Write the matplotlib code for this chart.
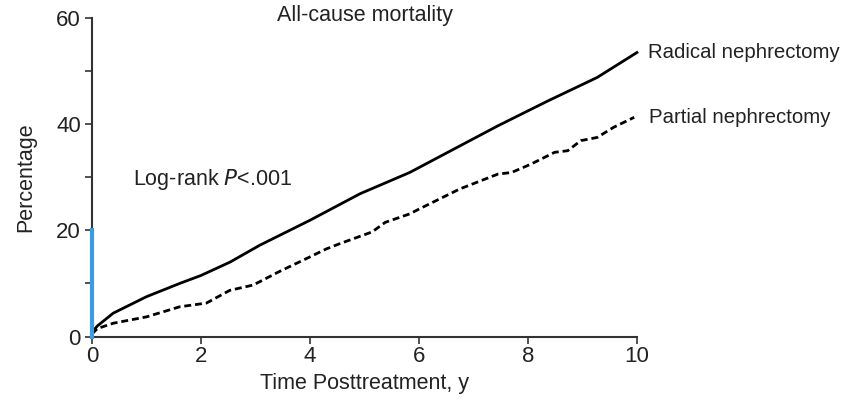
import matplotlib
matplotlib.use("Agg")
import matplotlib.pyplot as plt

plt.rcParams['font.family'] = ['Liberation Sans', 'DejaVu Sans']

# cumulative all-cause mortality (%), read at selected follow-up years
radical_t = [0, 0.1, 0.39, 1.0, 1.61, 2.0, 2.53, 3.08, 4.0, 4.92, 5.83, 6.75, 7.45,
             8.37, 9.27, 10.0]
radical_pct = [0.8, 2.0, 4.4, 7.5, 10.0, 11.5, 14.0, 17.2, 21.9, 26.9, 30.9, 35.9, 39.7,
               44.4, 48.8, 53.5]

partial_t = [0, 0.1, 0.39, 1.0, 1.61, 2.1, 2.53, 2.96, 3.45, 4.0, 4.3, 4.55, 5.14, 5.38,
             5.83, 6.0, 6.75, 7.45, 7.7, 8.06, 8.49, 8.73, 8.97, 9.27, 9.57, 9.95]
partial_pct = [0.5, 1.5, 2.5, 3.7, 5.6, 6.3, 8.7, 9.7, 12.3, 15.0, 16.5, 17.5, 19.7, 21.5,
               23.1, 24.0, 27.8, 30.6, 30.9, 32.5, 34.7, 35.0, 36.9, 37.5, 39.4, 41.3]

fig = plt.figure(figsize=(8.47, 4.03), dpi=100)
ax = fig.add_axes([0.1086, 0.165, 0.6434, 0.7903])

ax.plot(radical_t, radical_pct, color='black', lw=2.0, clip_on=False)
ax.plot(partial_t, partial_pct, color='black', lw=2.0, ls=(0, (2.5, 1.4)), clip_on=False)

# highlighted stretch of the y axis
ax.plot([0, 0], [0, 20], color='#3d9be0', lw=3, clip_on=False, zorder=5)

ax.set_xlim(0, 10)
ax.set_ylim(0, 60)
ax.set_xticks([0, 2, 4, 6, 8, 10])
ax.set_yticks([0, 20, 40, 60])
ax.set_yticks([10, 30, 50], minor=True)

for side in ['top', 'right']:
    ax.spines[side].set_visible(False)
for side in ['left', 'bottom']:
    ax.spines[side].set_color('#333333')
    ax.spines[side].set_linewidth(1.5)

ax.tick_params(axis='both', which='both', direction='out', length=5, width=1.2,
               color='#333333', labelsize=16, labelcolor='#222222', pad=2)
ax.tick_params(axis='y', which='major', pad=3)

ax.set_xlabel('Time Posttreatment, y', fontsize=15.5, color='#222222', labelpad=4)
ax.set_ylabel('Percentage', fontsize=15.5, color='#222222', labelpad=14)

ax.text(5.0, 60.4, 'All-cause mortality', fontsize=15.5, ha='center', va='center', color='#222222')
ax.text(0.75, 29.5, 'Log-rank $\\it{P}$<.001', fontsize=15.5, ha='left', va='center', color='#222222')
ax.text(10.2, 53.5, 'Radical nephrectomy', fontsize=14.7, ha='left', va='center', color='#222222')
ax.text(10.22, 41.3, 'Partial nephrectomy', fontsize=14.7, ha='left', va='center', color='#222222')

fig.savefig('out.png', dpi=100)
